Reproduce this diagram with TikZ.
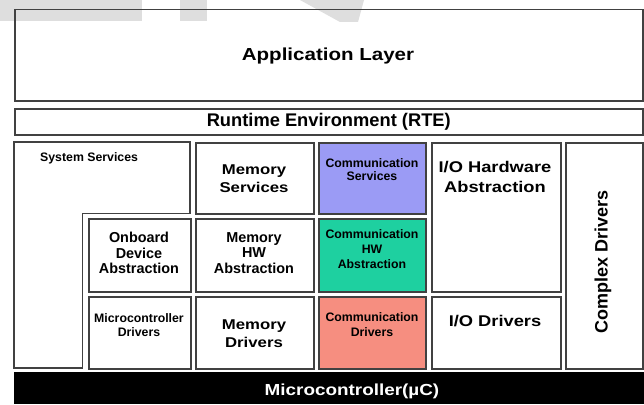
\documentclass[tikz,border=0pt]{standalone}
\usepackage{fontspec}
\setmainfont{Liberation Sans}
\newfontfamily\widefont[FakeStretch=1.18]{Liberation Sans}
\definecolor{edge}{RGB}{65,65,65}
\definecolor{commsrv}{RGB}{155,155,245}
\definecolor{commhw}{RGB}{30,208,160}
\definecolor{commdrv}{RGB}{246,142,128}
\definecolor{wm}{RGB}{222,222,222}
\newcommand\fsz[2]{\fontsize{#1}{#2}\selectfont\bfseries}
\newcommand\wsz[2]{\widefont\fontsize{#1}{#2}\selectfont\bfseries}
\begin{document}
\begin{tikzpicture}[x=1pt,y=-1pt,
  blk/.style={draw=edge, line width=1.5pt, fill=white, inner sep=0pt, anchor=north west},
  span/.style n args={4}{minimum width={(#3-#1)*1pt}, minimum height={(#4-#2)*1pt}, at={(#1,#2)}},
  tx/.style={inner sep=0pt, align=center, text=black},
  big/.style={tx, font=\wsz{15.5}{20}},
  mid/.style={tx, font=\wsz{14.2}{18}},
  sml/.style={tx, font=\fsz{14.4}{15.5}},
  tiny/.style={tx, font=\fsz{12.3}{14}}]
\useasboundingbox (0,0) rectangle (644,404);
\fill[white] (0,0) rectangle (644,404);
% faint watermark at the top
\fill[wm] (0,0) rectangle (142,21);
\fill[wm] (180,0) rectangle (207,21);
\fill[wm] (300,0) -- (364,0) -- (358,22) -- (340,22) -- cycle;
% layer boxes
\node[blk, fill=none, span={14}{9}{642}{100}] (bApp) {};
\node[tx, font=\wsz{17.4}{22}] (tApp) at (328,56) {Application Layer};
\node[blk, span={14}{108}{642}{134}] (bRte) {};
\node[tx, font=\fsz{18.3}{20}] (tRte) at (bRte.center) {Runtime Environment (RTE)};
% system services L-shape
\draw[draw=edge, line width=1.5pt, fill=white] (14,142) -- (190,142) -- (190,213.5) -- (82.5,213.5) -- (82.5,368) -- (14,368) -- cycle;
\node[tiny, anchor=west] (tSys) at (40,158) {System Services};
% memory column
\node[blk, span={195}{142}{313}{213}] (bMemS) {};
\node[mid] (tMemS) at (254,179) {Memory\\Services};
\node[blk, span={88}{218}{190}{291}] (bOnb) {};
\node[sml] (tOnb) at (139,253) {Onboard\\Device\\Abstraction};
\node[blk, span={195}{218}{313}{291}] (bMemH) {};
\node[sml] (tMemH) at (254,253) {Memory\\HW\\Abstraction};
\node[blk, span={88}{296}{190}{368}] (bMcuD) {};
\node[tiny] (tMcuD) at (139,325) {Microcontroller\\Drivers};
\node[blk, span={195}{296}{313}{368}] (bMemD) {};
\node[mid] (tMemD) at (254,334) {Memory\\Drivers};
% communication column
\node[blk, fill=commsrv, span={318}{142}{425}{213}] (bComS) {};
\node[tiny, font=\fsz{12.3}{13}] (tComS) at (372,170) {Communication\\Services};
\node[blk, fill=commhw, span={318}{218}{425}{291}] (bComH) {};
\node[tiny, font=\fsz{12.3}{15}] (tComH) at (372,249) {Communication\\HW\\Abstraction};
\node[blk, fill=commdrv, span={318}{296}{425}{368}] (bComD) {};
\node[tiny, font=\fsz{12.3}{15}] (tComD) at (372,325) {Communication\\Drivers};
% I/O column
\node[blk, span={431}{142}{560}{291}] (bIoH) {};
\node[big] (tIoH) at (495,177) {I/O Hardware\\Abstraction};
\node[blk, span={431}{296}{560}{368}] (bIoD) {};
\node[big] (tIoD) at (495,321) {I/O Drivers};
% complex drivers
\node[blk, span={565}{142}{642}{368}] (bCpx) {};
\node[tx, font=\fsz{18}{20}, rotate=90] (tCpx) at (603,262) {Complex Drivers};
% microcontroller
\fill[black] (14,372) rectangle (644,404);
\node[tx, text=white, font=\wsz{16}{20}] (tMcu) at (352,391) {Microcontroller(\textmu C)};
\end{tikzpicture}
\end{document}
